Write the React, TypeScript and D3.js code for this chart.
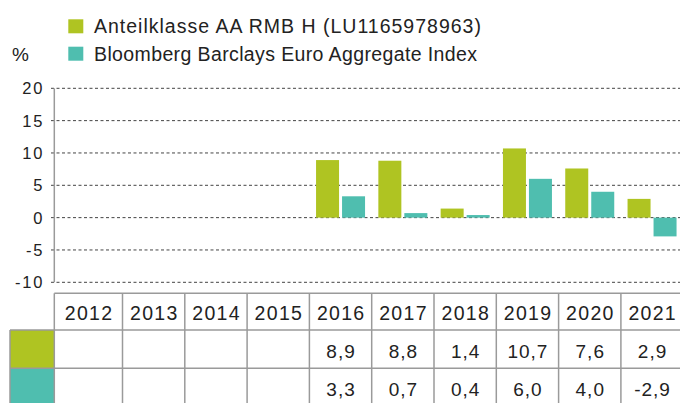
import React from "react";
import * as d3 from "d3";

const years = ["2012", "2013", "2014", "2015", "2016", "2017", "2018", "2019", "2020", "2021"];
const fundValues: (number | null)[] = [null, null, null, null, 8.9, 8.8, 1.4, 10.7, 7.6, 2.9];
const indexValues: (number | null)[] = [null, null, null, null, 3.3, 0.7, 0.4, 6.0, 4.0, -2.9];
const seriesNames = ["Anteilklasse AA RMB H (LU1165978963)", "Bloomberg Barclays Euro Aggregate Index"];
const yTicks = [20, 15, 10, 5, 0, -5, -10];

const GREEN = "#AFC422";
const TEAL = "#4FBEAF";
const GRID = "#9a9a9a";
const FONT = "'Liberation Sans', Arial, Helvetica, sans-serif";

export default function App() {
  const W = 680, H = 403;
  const axisX = 54.3;
  const y = d3.scaleLinear().domain([-10, 20]).range([282.3, 88.3]);
  const x = d3.scaleBand().domain(years).range([60.2, 683.2]).paddingInner(0).paddingOuter(0);
  const barW = 23;
  const gap = 3;
  const fmt = (v: number | null) => (v == null ? "" : d3.format(".1f")(v).replace(".", ",").replace("\u2212", "-"));

  const rowTops = [293.3, 330, 368.3, 406];
  const tableLeft = axisX;
  const colEdges = [tableLeft, ...years.slice(1).map((yr) => x(yr)!), 683.2];
  const legendSpacing = [1.0, 0.38];
  const yrSp = 1.3;
  const valSp = 1.0;
  const tickSp = 1.8;

  return (
    <svg width={W} height={H} style={{ position: "absolute", left: 0, top: 0, display: "block" }} fontFamily={FONT}>
      <rect width={W} height={H} fill="#fff" />
      {/* legend */}
      {seriesNames.map((n, i) => (
        <g key={n}>
          <rect x={68.3} y={19.3 + i * 27.4} width={15} height={14} fill={i === 0 ? GREEN : TEAL} />
          <text x={94} y={33.3 + i * 27.4} fontSize={19.5} letterSpacing={legendSpacing[i]} fill="#222">{n}</text>
        </g>
      ))}
      <text x={12} y={61} fontSize={19} fill="#222">%</text>

      {/* grid */}
      {yTicks.map((t) => (
        <g key={t}>
          <line x1={51} x2={680} y1={y(t)} y2={y(t)} stroke="#444" strokeWidth={1} strokeDasharray="3,2.5" />
          <text x={42.5 + tickSp} y={y(t)} dy="0.36em" textAnchor="end" fontSize={16.5} letterSpacing={tickSp} fill="#222">{t}</text>
        </g>
      ))}
      <line x1={axisX} x2={axisX} y1={y(20)} y2={y(-10)} stroke={GRID} strokeWidth={1.5} />

      {/* bars */}
      {years.map((yr, i) => {
        const c = x(yr)! + x.bandwidth() / 2;
        const f = fundValues[i];
        const b = indexValues[i];
        return (
          <g key={yr}>
            {f != null && (
              <rect x={c - gap / 2 - barW} width={barW} y={y(Math.max(0, f))} height={Math.abs(y(f) - y(0))} fill={GREEN} />
            )}
            {b != null && (
              <rect x={c + gap / 2} width={barW} y={y(Math.max(0, b))} height={Math.abs(y(b) - y(0))} fill={TEAL} />
            )}
          </g>
        );
      })}

      {/* table */}
      <rect x={10} y={rowTops[1]} width={tableLeft - 10} height={rowTops[2] - rowTops[1]} fill={GREEN} />
      <rect x={10} y={rowTops[2]} width={tableLeft - 10} height={rowTops[3] - rowTops[2]} fill={TEAL} />
      <line x1={tableLeft} x2={W} y1={rowTops[0]} y2={rowTops[0]} stroke={GRID} strokeWidth={1.5} />
      <line x1={10} x2={W} y1={rowTops[1]} y2={rowTops[1]} stroke={GRID} strokeWidth={1.5} />
      <line x1={10} x2={W} y1={rowTops[2]} y2={rowTops[2]} stroke={GRID} strokeWidth={1.5} />
      <line x1={10} x2={10} y1={rowTops[1]} y2={H} stroke={GRID} strokeWidth={1.5} />
      {colEdges.map((e, i) => (
        <line key={i} x1={e} x2={e} y1={rowTops[0]} y2={H} stroke={GRID} strokeWidth={1.5} />
      ))}
      {years.map((yr, i) => {
        const c = (colEdges[i] + colEdges[i + 1]) / 2;
        return (
          <g key={yr} fill="#222" textAnchor="middle">
            <text x={c + yrSp / 2} y={320} fontSize={19.5} letterSpacing={yrSp}>{yr}</text>
            <text x={c + valSp / 2} y={357.5} fontSize={19} letterSpacing={valSp}>{fmt(fundValues[i])}</text>
            <text x={c + valSp / 2} y={395.5} fontSize={19} letterSpacing={valSp}>{fmt(indexValues[i])}</text>
          </g>
        );
      })}
    </svg>
  );
}
